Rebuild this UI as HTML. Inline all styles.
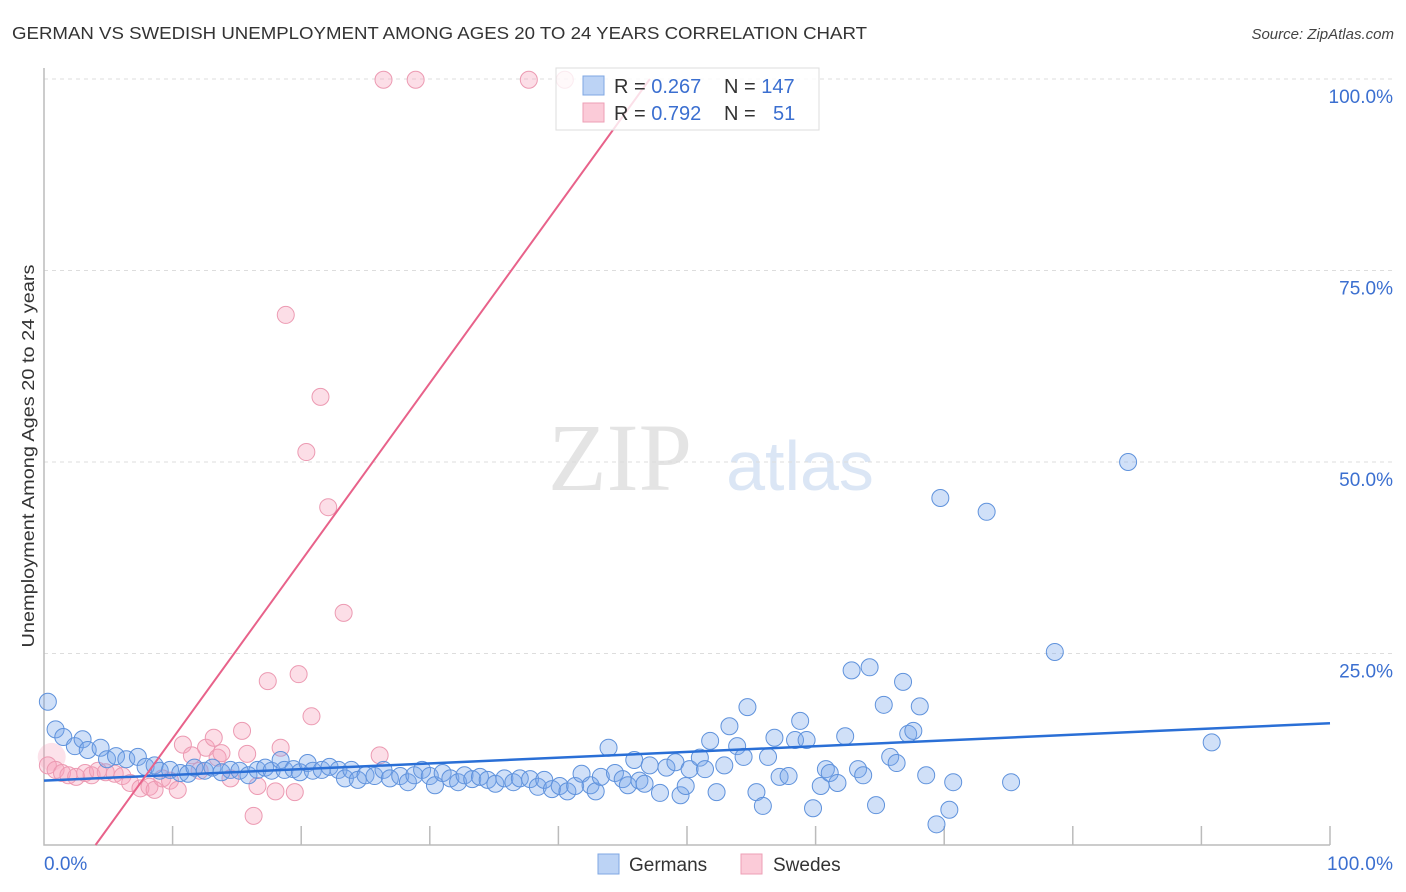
<!DOCTYPE html>
<html><head><meta charset="utf-8"><style>
body{margin:0;background:#fff;font-family:"Liberation Sans",sans-serif;}
svg{display:block}
</style></head><body>
<svg id="chart" width="1406" height="892" xmlns="http://www.w3.org/2000/svg">
<text x="12" y="39" font-size="17.5" fill="#333" textLength="855" lengthAdjust="spacingAndGlyphs">GERMAN VS SWEDISH UNEMPLOYMENT AMONG AGES 20 TO 24 YEARS CORRELATION CHART</text>
<text x="1394" y="39" font-size="15" fill="#444" font-style="italic" text-anchor="end">Source: ZipAtlas.com</text>
<text x="620" y="490" font-size="96" fill="#e4e4e4" font-family="Liberation Serif" text-anchor="middle">ZIP</text>
<text x="800" y="490" font-size="70" fill="#dbe6f5" text-anchor="middle">atlas</text>
<g id="grid"></g>
<g id="axes"></g>
<g id="pts"></g>
<g id="trend"></g>
<text transform="translate(34,456) rotate(-90)" font-size="17.5" fill="#333" text-anchor="middle" textLength="383" lengthAdjust="spacingAndGlyphs">Unemployment Among Ages 20 to 24 years</text>
<text x="44" y="870" font-size="19" fill="#3b6fd0">0.0%</text>
<text x="1393" y="870" font-size="19" fill="#3b6fd0" text-anchor="end" textLength="66">100.0%</text>
<g>
<rect x="556" y="68" width="263" height="62" fill="#fff" fill-opacity="0.8" stroke="#ddd"/>
<rect x="583" y="76" width="21" height="19" fill="#bcd3f5" stroke="#7fa7e3"/>
<rect x="583" y="103" width="21" height="19" fill="#fbcbd8" stroke="#ee9fb6"/>
<text x="614" y="93" font-size="20" fill="#333">R = <tspan fill="#3b6fd0">0.267</tspan></text>
<text x="724" y="93" font-size="20" fill="#333">N = <tspan fill="#3b6fd0">147</tspan></text>
<text x="614" y="120" font-size="20" fill="#333">R = <tspan fill="#3b6fd0">0.792</tspan></text>
<text x="724" y="120" font-size="20" fill="#333">N = <tspan fill="#3b6fd0" x="773">51</tspan></text>
</g>
<g>
<rect x="598" y="854" width="21" height="20" fill="#bcd3f5" stroke="#7fa7e3"/>
<text x="629" y="871" font-size="19" fill="#333">Germans</text>
<rect x="741" y="854" width="21" height="20" fill="#fbcbd8" stroke="#ee9fb6"/>
<text x="773" y="871" font-size="19" fill="#333">Swedes</text>
</g>
</svg>
<script>
const yTicks=[25,50,75,100];
const yTickLabels=["25.0%","50.0%","75.0%","100.0%"];
const germansX=[0.3,0.9,1.5,2.4,3.0,3.4,4.4,4.9,5.6,6.4,7.3,7.9,8.6,9.0,9.8,10.6,11.2,11.7,12.5,13.1,13.8,14.5,15.2,15.9,16.6,17.2,17.7,18.4,18.7,19.4,19.9,20.5,20.9,21.6,22.2,22.9,23.4,23.9,24.4,25.0,25.7,26.4,26.9,27.7,28.3,28.8,29.4,30.0,30.4,31.0,31.6,32.2,32.7,33.3,33.9,34.5,35.1,35.8,36.5,37.0,37.8,38.4,38.9,39.5,40.1,40.7,41.3,41.8,42.5,42.9,43.3,43.9,44.4,45.0,45.4,45.9,46.3,46.7,47.1,47.9,48.4,49.1,49.5,49.9,50.2,51.0,51.4,51.8,52.3,52.9,53.3,53.9,54.4,54.7,55.4,55.9,56.3,56.8,57.2,57.9,58.4,58.8,59.3,59.8,60.4,60.8,61.1,61.7,62.3,62.8,63.3,63.7,64.2,64.7,65.3,65.8,66.3,66.8,67.2,67.6,68.1,68.6,69.4,69.7,70.4,70.7,73.3,75.2,78.6,84.3,90.8];
const germansY=[18.7,15.1,14.1,12.9,13.8,12.4,12.7,11.2,11.6,11.2,11.5,10.2,10.4,9.7,9.8,9.4,9.3,10.1,9.7,10.1,9.5,9.8,9.7,9.1,9.8,10.1,9.7,11.1,9.8,9.9,9.5,10.7,9.7,9.8,10.2,9.8,8.7,9.8,8.5,9.1,9.0,9.8,8.7,9.0,8.2,9.1,9.8,9.0,7.8,9.4,8.7,8.2,9.1,8.6,8.9,8.5,8.0,8.7,8.2,8.7,8.6,7.6,8.5,7.3,7.7,7.0,7.7,9.3,7.8,7.0,8.9,12.7,9.4,8.6,7.8,11.1,8.4,8.0,10.4,6.8,10.1,10.8,6.5,7.7,9.9,11.4,9.9,13.6,6.9,10.4,15.5,12.9,11.5,18.0,6.9,5.1,11.5,14.0,8.9,9.0,13.7,16.2,13.7,4.8,7.7,9.9,9.4,8.1,14.2,22.8,9.9,9.1,23.2,5.2,18.3,11.5,10.7,21.3,14.5,14.9,18.1,9.1,2.7,45.3,4.6,8.2,43.5,8.2,25.2,50.0,13.4];
const swedesX=[0.3,0.9,1.4,1.9,2.5,3.2,3.7,4.2,4.8,5.5,6.1,6.7,7.5,8.2,8.6,9.2,9.8,10.4,10.8,11.5,12.1,12.6,13.2,13.5,13.8,14.5,15.4,15.8,16.6,16.3,17.4,18.0,18.4,19.5,18.8,19.8,20.8,20.4,21.5,22.1,23.3,26.1,26.4,28.9,37.7,40.5];
const swedesY=[10.4,9.8,9.4,9.1,8.9,9.4,9.1,9.7,9.5,9.3,9.0,8.1,7.4,7.6,7.2,8.7,8.4,7.2,13.1,11.7,9.7,12.7,14.0,11.4,12.0,8.7,14.9,11.9,7.7,3.8,21.4,7.0,12.7,6.9,69.2,22.3,16.8,51.3,58.5,44.1,30.3,11.7,99.9,99.9,99.9,99.9];
const germanTrend=[8.4,15.9];
const swedeTrend=[-9.3,2.32];

const X0=44,X1=1330,Y0=845,Y100=79;
const sx=v=>X0+(X1-X0)*v/100;
const sy=v=>Y0-(Y0-Y100)*v/100;
const NS="http://www.w3.org/2000/svg";
function mk(tag,attrs,parent){const e=document.createElementNS(NS,tag);for(const k in attrs)e.setAttribute(k,attrs[k]);parent.appendChild(e);return e;}
const grid=document.getElementById('grid'),axes=document.getElementById('axes'),pts=document.getElementById('pts'),trend=document.getElementById('trend');
yTicks.forEach((t,i)=>{
  const l=mk('line',{x1:X0,x2:1393,y1:sy(t),y2:sy(t),stroke:'#ddd','stroke-dasharray':'4,4'},grid);
  
  
  const tx=mk('text',{x:1393,y:sy(t)+24,'font-size':19,fill:'#3b6fd0','text-anchor':'end'},grid);
  tx.textContent=yTickLabels[i];
  
  
});
const ax=mk('path',{d:`M${X0} 68 V${Y0} H${X1}`,fill:'none',stroke:'#bbb','stroke-width':1.5},axes);


for(let i=1;i<=10;i++){
  const tk=mk('line',{x1:sx(i*10),x2:sx(i*10),y1:Y0-19,y2:Y0,stroke:'#bbb','stroke-width':1.5},axes);
  
  
}
const big=mk('circle',{cx:sx(0.6),cy:sy(11.5),r:14,fill:'rgba(245,160,185,0.3)',stroke:'none'},pts);


swedesX.forEach((x,i)=>{
  const c=mk('circle',{cx:sx(x),cy:sy(swedesY[i]),r:8.5,fill:'rgba(245,160,185,0.35)',stroke:'#ec9ab2','stroke-width':1},pts);
  
  
});
germansX.forEach((x,i)=>{
  const c=mk('circle',{cx:sx(x),cy:sy(germansY[i]),r:8.5,fill:'rgba(120,165,235,0.35)',stroke:'#5f92dc','stroke-width':1},pts);
  
  
});
const g=mk('line',{x1:sx(0),y1:sy(germanTrend[0]),x2:sx(100),y2:sy(germanTrend[1]),stroke:'#2a6fd6','stroke-width':2.5},trend);


const xa=-swedeTrend[0]/swedeTrend[1], xb=(100-swedeTrend[0])/swedeTrend[1];
const s=mk('line',{x1:sx(xa),y1:sy(0),x2:sx(xb),y2:sy(100),stroke:'#e8628a','stroke-width':2},trend);


</script>
</body></html>
